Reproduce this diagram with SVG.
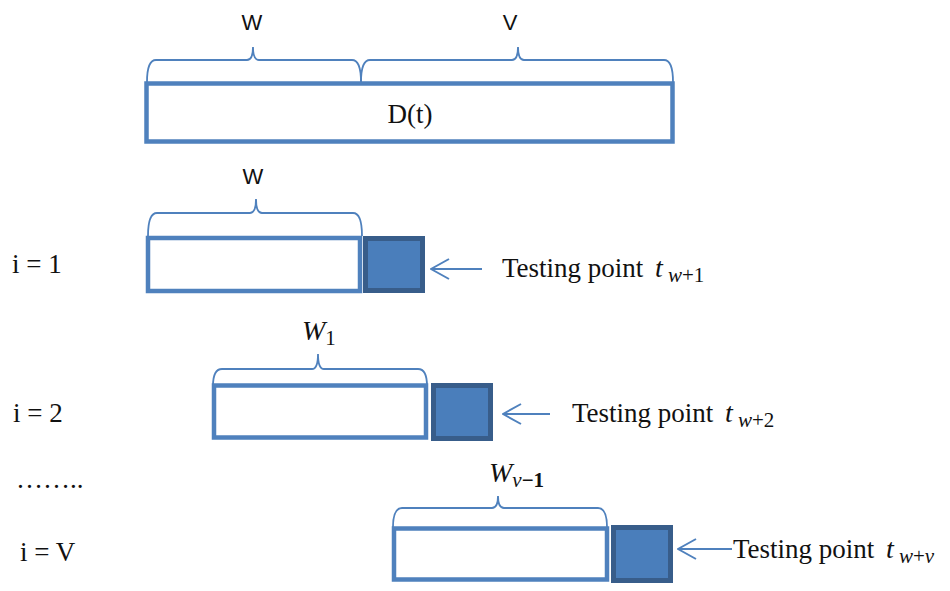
<svg xmlns="http://www.w3.org/2000/svg" width="950" height="591" viewBox="0 0 950 591">
<defs>
<style>
.box{fill:#fff;stroke:#4F81BD;stroke-width:4.5}
.sq{fill:#4A7EBB;stroke:#385D8A;stroke-width:5}
.br{fill:none;stroke:#4F81BD;stroke-width:1.8}
.ar{fill:none;stroke:#4F81BD;stroke-width:2}
.sans{font-family:"Liberation Sans",Arial,sans-serif;font-size:22px;fill:#111}
.serif{font-family:"Liberation Serif","Times New Roman",serif;font-size:27px;fill:#111}
.m{font-family:"Liberation Serif","Times New Roman",serif;font-style:italic;fill:#111}
.up{font-style:normal}
</style>
<marker id="ah" viewBox="0 0 20 24" refX="19" refY="12" markerWidth="20" markerHeight="24" markerUnits="userSpaceOnUse" orient="auto">
<path d="M1,2 L19,12 L1,22" fill="none" stroke="#4F81BD" stroke-width="2"/>
</marker>
</defs>
<rect width="950" height="591" fill="#fff"/>

<g id="top">
<rect class="box" x="146.5" y="83.5" width="526" height="58" stroke-width="5"/>
<text class="serif" x="410" y="123" text-anchor="middle">D(t)</text>
<path class="br" d="M147,82 Q147,60 156,60 L247,60 Q253,60 253,47 Q253,60 259,60 L352,60 Q361,60 361,82"/>
<path class="br" d="M361,82 Q361,60 370,60 L512,60 Q518,60 518,47 Q518,60 524,60 L664,60 Q673,60 673,82"/>
<text class="sans" x="252" y="30" text-anchor="middle">W</text>
<text class="sans" x="510" y="30" text-anchor="middle">V</text>
</g>

<g id="row1">
<text class="serif" x="12" y="273">i = 1</text>
<path class="br" d="M148,236 Q148,213 157,213 L250,213 Q256,213 256,199 Q256,213 262,213 L353,213 Q362,213 362,236"/>
<text class="sans" x="253" y="184" text-anchor="middle">W</text>
<rect class="box" x="148" y="238" width="212" height="53"/>
<rect class="sq" x="365.5" y="238.5" width="57" height="52"/>
<text class="serif" y="277"><tspan x="502">Testing point</tspan><tspan class="m" x="655" font-size="28">t</tspan><tspan class="m" x="668" dy="5" font-size="21">w<tspan class="up">+1</tspan></tspan></text>
</g>

<g id="row2">
<text class="serif" x="13" y="422">i = 2</text>
<path class="br" d="M213,386 Q213,369 222,369 L312,369 Q318,369 318,354 Q318,369 324,369 L418,369 Q427,369 427,386"/>
<text class="m" x="302" y="340" font-size="28">W<tspan class="up" font-size="21" dy="5">1</tspan></text>
<rect class="box" x="214" y="385.5" width="212" height="52"/>
<rect class="sq" x="433.5" y="385.5" width="57" height="53"/>
<text class="serif" y="422"><tspan x="572">Testing point</tspan><tspan class="m" x="725" font-size="28">t</tspan><tspan class="m" x="738" dy="5" font-size="21">w<tspan class="up">+2</tspan></tspan></text>
</g>

<text class="serif" x="16" y="488">……..</text>

<g id="row3">
<text class="serif" x="20" y="561">i = V</text>
<path class="br" d="M393,527 Q393,508 402,508 L492,508 Q498,508 498,496 Q498,508 504,508 L598,508 Q607,508 607,527"/>
<text class="m" x="489" y="482" font-size="28">W<tspan font-size="21" dy="5">v<tspan class="up" font-weight="bold">−1</tspan></tspan></text>
<rect class="box" x="394" y="528.5" width="213" height="51"/>
<rect class="sq" x="613.5" y="527.5" width="57" height="53"/>
<text class="serif" y="558"><tspan x="733">Testing point</tspan><tspan class="m" x="886" font-size="28">t</tspan><tspan class="m" x="899" dy="5" font-size="21">w<tspan class="up">+</tspan>v</tspan></text>
</g>

<g id="connectors">
<line class="ar" x1="482" y1="269" x2="431" y2="269" marker-end="url(#ah)"/>
<line class="ar" x1="550" y1="414" x2="503" y2="414" marker-end="url(#ah)"/>
<line class="ar" x1="732" y1="549" x2="678" y2="549" marker-end="url(#ah)"/>
</g>
</svg>
